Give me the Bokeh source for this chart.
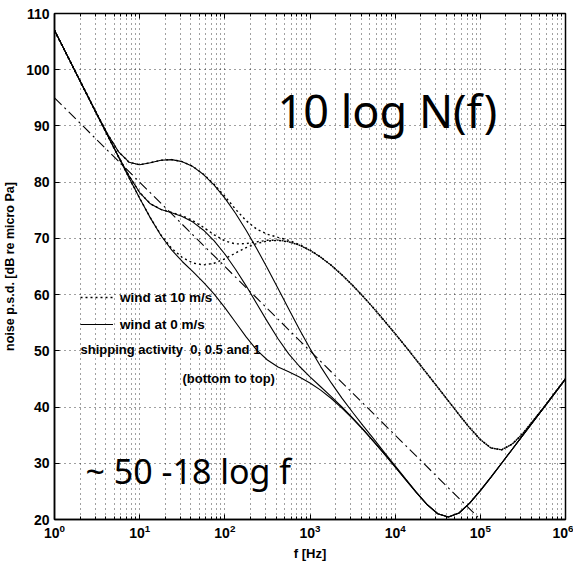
from bokeh.plotting import figure
from bokeh.models import (Range1d, FixedTicker, Legend, LegendItem, Label,
                          LinearAxis, LogAxis)
from bokeh.embed import file_html
from bokeh.resources import INLINE

# ---- data ----
freq_hz = [1, 1.778, 3.162, 4.217, 5.623, 7.499, 10, 13.34, 17.78, 23.71,
           31.62, 42.17, 56.23, 74.99, 100, 133.4, 177.8, 237.1, 316.2, 421.7,
           562.3, 749.9, 1000, 1334, 1778, 2371, 3162, 4217, 5623, 7499,
           10000, 13340, 17780, 23710, 31620, 42170, 56230, 74990, 100000, 133400,
           177800, 237100, 316200, 562300, 1000000]

# wind 0 m/s, shipping 0 / 0.5 / 1
wind0_ship0 = [107.0, 99.5, 92.0, 88.25, 84.51, 80.79, 77.13, 73.65, 70.52, 67.95,
               65.89, 64.08, 62.19, 60.08, 57.68, 55.09, 52.47, 50.13, 48.37, 47.11,
               46.27, 45.35, 44.29, 43.01, 41.52, 39.81, 37.94, 35.94, 33.82, 31.61,
               29.34, 27.05, 24.76, 22.66, 21.02, 20.43, 21.16, 22.91, 25.13, 27.54,
               30.01, 32.50, 35.0, 40.0, 45.0]
wind0_ship05 = [107.0, 99.5, 92.0, 88.28, 84.61, 81.13, 78.16, 76.15, 75.13, 74.55,
                73.91, 72.90, 71.45, 69.55, 67.22, 64.52, 61.56, 58.38, 55.19, 52.14,
                49.47, 47.26, 45.36, 43.61, 41.86, 40.01, 38.06, 36.01, 33.86, 31.63,
                29.36, 27.06, 24.77, 22.66, 21.02, 20.43, 21.16, 22.91, 25.13, 27.54,
                30.01, 32.50, 35.0, 40.0, 45.0]
wind0_ship1 = [107.0, 99.5, 92.07, 88.52, 85.45, 83.55, 83.09, 83.46, 83.90, 84.01,
               83.65, 82.77, 81.36, 79.49, 77.17, 74.47, 71.45, 68.17, 64.70, 61.09,
               57.44, 53.85, 50.40, 47.20, 44.29, 41.59, 39.08, 36.66, 34.28, 31.90,
               29.53, 27.17, 24.84, 22.67, 21.02, 20.43, 21.16, 22.91, 25.13, 27.54,
               30.01, 32.50, 35.0, 40.0, 45.0]

# wind 10 m/s, shipping 0 / 0.5 / 1
wind10_ship0 = [107.0, 99.5, 92.0, 88.25, 84.51, 80.79, 77.14, 73.68, 70.61, 68.23,
                66.60, 65.62, 65.27, 65.58, 66.37, 67.39, 68.35, 69.09, 69.53, 69.64,
                69.39, 68.79, 67.87, 66.66, 65.20, 63.51, 61.65, 59.65, 57.53, 55.32,
                53.04, 50.72, 48.33, 45.93, 43.51, 41.08, 38.66, 36.31, 34.21, 32.72,
                32.40, 33.42, 35.31, 40.03, 45.0]
wind10_ship05 = [107.0, 99.5, 92.0, 88.28, 84.61, 81.13, 78.17, 76.17, 75.16, 74.61,
                 74.03, 73.14, 71.96, 70.64, 69.55, 69.01, 69.08, 69.39, 69.66, 69.69,
                 69.42, 68.81, 67.88, 66.66, 65.20, 63.51, 61.65, 59.65, 57.53, 55.32,
                 53.04, 50.72, 48.33, 45.93, 43.51, 41.08, 38.66, 36.31, 34.21, 32.72,
                 32.40, 33.42, 35.31, 40.03, 45.0]
wind10_ship1 = [107.0, 99.5, 92.07, 88.52, 85.45, 83.55, 83.09, 83.46, 83.90, 84.02,
                83.66, 82.80, 81.41, 79.61, 77.48, 75.20, 73.14, 71.64, 70.74, 70.18,
                69.65, 68.91, 67.93, 66.69, 65.22, 63.52, 61.65, 59.65, 57.53, 55.32,
                53.04, 50.72, 48.33, 45.93, 43.51, 41.08, 38.66, 36.31, 34.21, 32.72,
                32.40, 33.42, 35.31, 40.03, 45.0]

# approximate straight line
approx_f = [1, 100000]
approx_db = [95, 20]

x_major = [1, 10, 100, 1000, 10000, 100000, 1000000]
x_minor = [k * d for d in [1, 10, 100, 1000, 10000, 100000] for k in range(2, 10)]
y_major = [20, 30, 40, 50, 60, 70, 80, 90, 100, 110]

# ---- figure ----
p = figure(width=573, height=563, x_axis_type="log",
           x_range=Range1d(1, 1e6), y_range=Range1d(20, 110),
           output_backend="svg", toolbar_location=None,
           min_border_left=54, min_border_right=8,
           min_border_top=13, min_border_bottom=42,
           background_fill_color="white", border_fill_color="white")
p.outline_line_color = "black"
p.outline_line_width = 1.5

p.xaxis.ticker = FixedTicker(ticks=x_major, minor_ticks=x_minor)
p.yaxis.ticker = FixedTicker(ticks=y_major, minor_ticks=[])

for ax in (p.xaxis[0], p.yaxis[0]):
    ax.major_tick_in = 5
    ax.major_tick_out = 0
    ax.minor_tick_in = 3
    ax.minor_tick_out = 0
    ax.axis_line_color = "black"
    ax.axis_line_width = 1.5
    ax.major_tick_line_color = "black"
    ax.minor_tick_line_color = "black"
    ax.major_label_text_font = "Liberation Sans"
    ax.major_label_text_font_style = "bold"
    ax.major_label_text_font_size = "14px"
    ax.major_label_text_color = "black"
    ax.axis_label_text_font = "Liberation Sans"
    ax.axis_label_text_font_style = "bold"
    ax.axis_label_text_color = "black"

p.xaxis.axis_label = "f [Hz]"
p.xaxis.axis_label_text_font_size = "13px"
p.xaxis.axis_label_standoff = 5
p.xaxis.major_label_standoff = 4
p.yaxis.axis_label = "noise p.s.d. [dB re micro Pa]"
p.yaxis.axis_label_text_font_size = "12.5px"
p.yaxis.axis_label_standoff = 6
p.yaxis.major_label_standoff = 5

# box ticks on the right and top (labels hidden)
ra = LinearAxis(ticker=FixedTicker(ticks=y_major, minor_ticks=[]),
                major_label_text_font_size="1px", major_label_text_alpha=0,
                major_label_standoff=0, major_tick_in=5, major_tick_out=0,
                minor_tick_line_color=None, axis_line_color="black")
p.add_layout(ra, "right")
ta = LogAxis(ticker=FixedTicker(ticks=x_major, minor_ticks=x_minor),
             major_label_text_font_size="1px", major_label_text_alpha=0,
             major_label_standoff=0, major_tick_in=5, major_tick_out=0,
             minor_tick_in=3, minor_tick_out=0, axis_line_color="black")
p.add_layout(ta, "above")

# grid
for g in (p.xgrid[0], p.ygrid[0]):
    g.grid_line_color = "black"
    g.grid_line_alpha = 0.75
    g.grid_line_dash = "1 4"
    g.grid_line_width = 1
p.xgrid.minor_grid_line_color = "black"
p.xgrid.minor_grid_line_alpha = 0.75
p.xgrid.minor_grid_line_dash = "1 4"

# curves
r_s0 = p.line(freq_hz, wind0_ship0, line_color="black", line_width=1.1)
p.line(freq_hz, wind0_ship05, line_color="black", line_width=1.1)
p.line(freq_hz, wind0_ship1, line_color="black", line_width=1.1)
r_d0 = p.line(freq_hz, wind10_ship0, line_color="black", line_width=1.4, line_dash="2 3")
p.line(freq_hz, wind10_ship05, line_color="black", line_width=1.4, line_dash="2 3")
p.line(freq_hz, wind10_ship1, line_color="black", line_width=1.4, line_dash="2 3")
p.line(approx_f, approx_db, line_color="black", line_width=1.1, line_dash="10 4 2 4")

legend = Legend(items=[LegendItem(label="wind at 10 m/s", renderers=[r_d0]),
                       LegendItem(label="wind at 0 m/s", renderers=[r_s0])],
                location=(26, 185), glyph_width=33, glyph_height=20, spacing=7,
                padding=0, margin=0, label_standoff=7,
                background_fill_alpha=0, border_line_color=None,
                label_text_font="Liberation Sans", label_text_font_style="bold",
                label_text_font_size="13.5px", label_text_color="black")
p.add_layout(legend)

p.add_layout(Label(x=26, y=170, x_units="screen", y_units="screen",
                   text="shipping activity \u00a00, 0.5 and 1", text_baseline="middle",
                   text_font="Liberation Sans", text_font_style="bold",
                   text_font_size="13px", text_color="black"))
p.add_layout(Label(x=128, y=141, x_units="screen", y_units="screen",
                   text="(bottom to top)", text_baseline="middle",
                   text_font="Liberation Sans", text_font_style="bold",
                   text_font_size="13px", text_color="black"))
p.add_layout(Label(x=223, y=409, x_units="screen", y_units="screen",
                   text="10 log N(f)", text_baseline="alphabetic",
                   text_font="Noto Sans", text_font_size="45px", text_color="black"))
p.add_layout(Label(x=31, y=49, x_units="screen", y_units="screen",
                   text="~ 50 -18 log f", text_baseline="alphabetic",
                   text_font="Noto Sans", text_font_size="34px", text_color="black"))

open("out.html", "w").write(file_html(p, INLINE))
